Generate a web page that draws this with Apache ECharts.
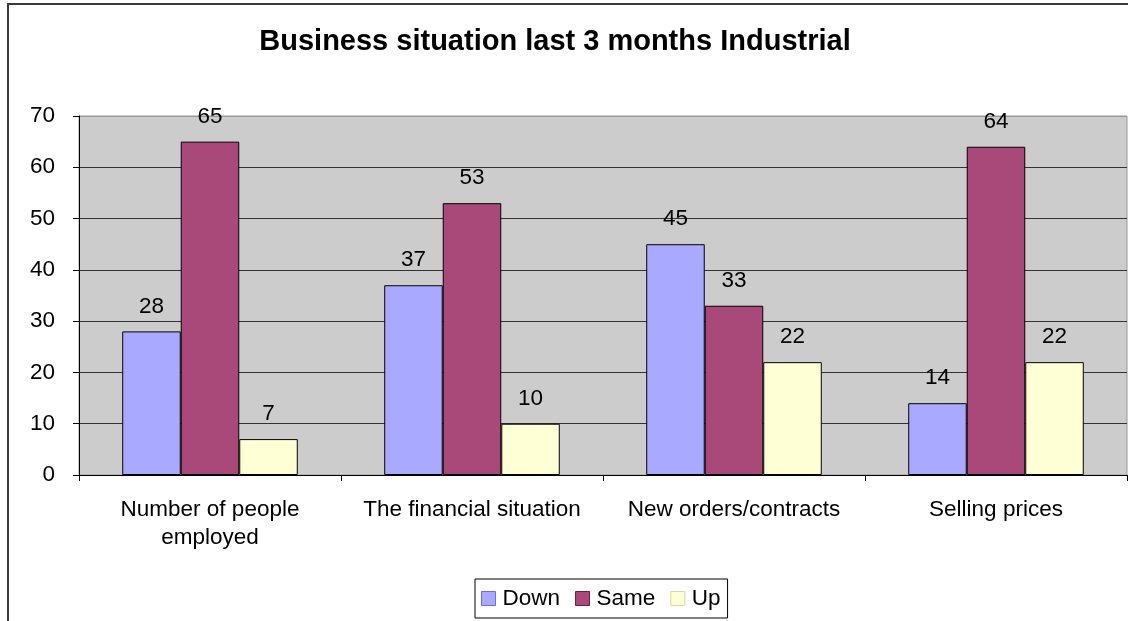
<!DOCTYPE html>
<html>
<head>
<meta charset="utf-8">
<style>
  html, body { margin: 0; padding: 0; background: #ffffff; }
  #chart { width: 1128px; height: 621px; }
</style>
<script src="https://cdn.jsdelivr.net/npm/echarts@6/dist/echarts.min.js"></script>
</head>
<body>
<div id="chart"></div>
<script>
// Survey answers, share of respondents (%)
const categories = ['Number of people\nemployed', 'The financial situation', 'New orders/contracts', 'Selling prices'];
const seriesNames = ['Down', 'Same', 'Up'];
const downValues = [28, 37, 45, 14];
const sameValues = [65, 53, 33, 64];
const upValues = [7, 10, 22, 22];
const yTicks = { min: 0, max: 70, interval: 10 };
const titleText = 'Business situation last 3 months Industrial';

const FONT = '"Liberation Sans", Arial, sans-serif';
const FS = 22.5;
const colors = ['#A9A9FF', '#A8497A', '#FFFFD6'];
const legendBorders = ['#6F6FD8', '#6A1E44', '#D8D8A0'];

const chart = echarts.init(document.getElementById('chart'), null, { renderer: 'canvas' });

function barSeries(name, data, color) {
  return {
    name: name,
    type: 'bar',
    data: data,
    barGap: '0%',
    barCategoryGap: '33%',
    itemStyle: { color: color, borderColor: '#000000', borderWidth: 1 },
    label: {
      show: true,
      position: 'top',
      distance: 14,
      color: '#000000',
      fontFamily: FONT,
      fontSize: FS,
      lineHeight: 22
    }
  };
}

chart.setOption({
  animation: false,
  backgroundColor: '#ffffff',
  textStyle: { fontFamily: FONT },
  graphic: [
    {
      type: 'rect',
      shape: { x: 8, y: 4, width: 1160, height: 660 },
      style: { fill: 'none', stroke: '#3a3a3a', lineWidth: 2 },
      silent: true,
      z: -1
    },
    {
      type: 'text',
      x: 555,
      y: 42,
      style: {
        text: titleText,
        fill: '#000000',
        font: 'bold 29px ' + FONT,
        textAlign: 'center',
        textVerticalAlign: 'middle'
      }
    }
  ],
  grid: {
    left: 79,
    right: 1,
    top: 116,
    bottom: 146,
    show: true,
    backgroundColor: '#CCCCCC',
    borderColor: '#999999',
    borderWidth: 1
  },
  legend: {
    data: seriesNames.map((n, i) => ({ name: n, itemStyle: { borderColor: legendBorders[i], borderWidth: 1 } })),
    left: 475,
    top: 579,
    orient: 'horizontal',
    icon: 'rect',
    itemWidth: 14,
    itemHeight: 14,
    itemGap: 15,
    padding: [8, 7, 8, 6],
    borderColor: '#000000',
    borderWidth: 1,
    textStyle: { fontFamily: FONT, fontSize: FS, color: '#000000', padding: [0, 0, 0, 2] }
  },
  xAxis: {
    type: 'category',
    data: categories,
    axisLine: { show: true, lineStyle: { color: '#000000', width: 1 } },
    axisTick: { show: true, length: 6, alignWithLabel: false, lineStyle: { color: '#000000' } },
    axisLabel: {
      interval: 0,
      margin: 21,
      color: '#000000',
      fontFamily: FONT,
      fontSize: FS,
      lineHeight: 28
    },
    splitLine: { show: false }
  },
  yAxis: {
    type: 'value',
    min: yTicks.min,
    max: yTicks.max,
    interval: yTicks.interval,
    axisLine: { show: true, lineStyle: { color: '#000000', width: 1 } },
    axisTick: { show: true, length: 6, lineStyle: { color: '#000000' } },
    axisLabel: {
      margin: 24,
      color: '#000000',
      fontFamily: FONT,
      fontSize: FS
    },
    splitLine: {
      show: true,
      lineStyle: {
        color: ['#333333', '#333333', '#333333', '#333333', '#333333', '#333333', '#333333', '#999999'],
        width: 1
      }
    }
  },
  series: [
    barSeries(seriesNames[0], downValues, colors[0]),
    barSeries(seriesNames[1], sameValues, colors[1]),
    barSeries(seriesNames[2], upValues, colors[2])
  ]
});
</script>
</body>
</html>
